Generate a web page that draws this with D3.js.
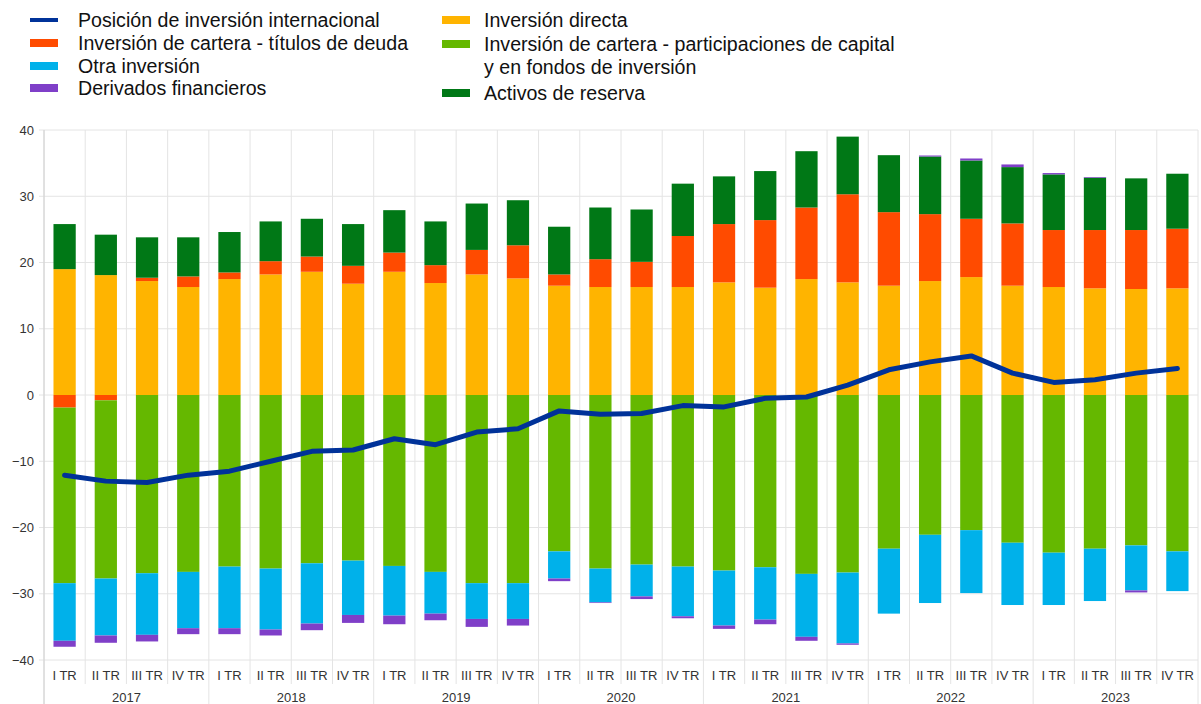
<!DOCTYPE html>
<html>
<head>
<meta charset="utf-8">
<script src="https://cdn.jsdelivr.net/npm/d3@7/dist/d3.min.js"></script>
<style>
body { margin: 0; background: #fff; }
svg { display: block; font-family: "Liberation Sans", Arial, sans-serif; }
</style>
</head>
<body>
<svg id="chart" width="1201" height="704"></svg>
<script>
// quarters and years
var years = ["2017", "2018", "2019", "2020", "2021", "2022", "2023"];
var quarters = ["I TR", "II TR", "III TR", "IV TR"];
var yTicks = [40, 30, 20, 10, 0, -10, -20, -30, -40];

// series (% of GDP)
var directa = [19.0, 18.1, 17.2, 16.3, 17.5, 18.2, 18.6, 16.8, 18.6, 16.9, 18.2, 17.6, 16.5, 16.3, 16.3, 16.3, 17.0, 16.2, 17.5, 17.0, 16.5, 17.2, 17.8, 16.5, 16.3, 16.1, 16.0, 16.1];
var deuda = [-1.9, -0.8, 0.5, 1.6, 1.0, 2.0, 2.3, 2.7, 2.9, 2.7, 3.7, 5.0, 1.7, 4.2, 3.8, 7.7, 8.8, 10.2, 10.8, 13.3, 11.1, 10.1, 8.8, 9.4, 8.6, 8.8, 8.9, 9.0];
var participaciones = [-26.5, -26.9, -26.9, -26.7, -25.9, -26.2, -25.4, -25.0, -25.8, -26.7, -28.4, -28.4, -23.6, -26.2, -25.6, -25.9, -26.5, -26.0, -27.0, -26.8, -23.2, -21.1, -20.4, -22.3, -23.8, -23.2, -22.7, -23.6];
var otra = [-8.7, -8.6, -9.3, -8.5, -9.3, -9.2, -9.1, -8.2, -7.5, -6.3, -5.4, -5.4, -4.1, -5.1, -4.8, -7.5, -8.3, -7.9, -9.5, -10.7, -9.8, -10.3, -9.5, -9.4, -7.9, -7.9, -6.8, -6.0];
var reservas = [6.8, 6.1, 6.1, 5.9, 6.1, 6.0, 5.7, 6.3, 6.4, 6.6, 7.0, 6.8, 7.2, 7.8, 7.9, 7.9, 7.2, 7.4, 8.5, 8.7, 8.6, 8.7, 8.8, 8.5, 8.4, 7.9, 7.8, 8.3];
var derivados = [-0.9, -1.1, -1.0, -0.9, -0.9, -0.9, -1.0, -1.2, -1.3, -1.0, -1.2, -1.0, -0.4, -0.1, -0.4, -0.3, -0.5, -0.7, -0.6, -0.2, 0.0, 0.15, 0.3, 0.4, 0.2, 0.1, -0.3, 0.0];
var posicion = [-12.1, -13.0, -13.2, -12.1, -11.5, -10.0, -8.5, -8.3, -6.6, -7.5, -5.6, -5.1, -2.4, -2.9, -2.8, -1.6, -1.8, -0.5, -0.3, 1.5, 3.8, 5.0, 5.9, 3.3, 1.9, 2.3, 3.3, 4.0];

var series = [
	{key: "directa", name: "Inversión directa", values: directa, color: "#ffb400"},
	{key: "deuda", name: "Inversión de cartera - títulos de deuda", values: deuda, color: "#ff4b00"},
	{key: "participaciones", name: "Inversión de cartera - participaciones de capital|y en fondos de inversión", values: participaciones, color: "#65b800"},
	{key: "otra", name: "Otra inversión", values: otra, color: "#00b1ea"},
	{key: "reservas", name: "Activos de reserva", values: reservas, color: "#007816"},
	{key: "derivados", name: "Derivados financieros", values: derivados, color: "#7f3fc8"}
];
var lineColor = "#003299";

var periods = [];
years.forEach(function(y) {
	quarters.forEach(function(q) { periods.push(y + " " + q); });
});

var rows = periods.map(function(p, i) {
	var r = {period: p};
	series.forEach(function(s) { r[s.key] = s.values[i]; });
	return r;
});

var svg = d3.select("#chart");
var plotLeft = 44, plotRight = 1198, plotTop = 130, plotBottom = 660;

var x = d3.scaleBand().domain(periods).range([plotLeft, plotRight]).paddingInner(0.46).paddingOuter(0.23);
var y = d3.scaleLinear().domain([-40, 40]).range([plotBottom, plotTop]);
var step = x.step();

// grid
var grid = svg.append("g");
grid.selectAll(".hgrid").data(yTicks).enter().append("line")
	.attr("x1", plotLeft - 5).attr("x2", plotRight)
	.attr("y1", function(d) { return y(d); }).attr("y2", function(d) { return y(d); })
	.attr("stroke", "#e4e4e4").attr("stroke-width", 1);
grid.selectAll(".vgrid").data(d3.range(periods.length + 1)).enter().append("line")
	.attr("x1", function(i) { return plotLeft + i * step; })
	.attr("x2", function(i) { return plotLeft + i * step; })
	.attr("y1", plotTop)
	.attr("y2", function(i) { return i % 4 === 0 ? 704 : 684; })
	.attr("stroke", "#e4e4e4").attr("stroke-width", 1);

// stacked bars
var stack = d3.stack().keys(series.map(function(s) { return s.key; }))
	.offset(d3.stackOffsetDiverging);
var stacked = stack(rows);

svg.append("g").selectAll("g").data(stacked).enter().append("g")
	.attr("fill", function(d, i) { return series[i].color; })
	.selectAll("rect").data(function(d) { return d; }).enter().append("rect")
	.attr("x", function(d) { return x(d.data.period); })
	.attr("width", x.bandwidth())
	.attr("y", function(d) { return y(Math.max(d[0], d[1])); })
	.attr("height", function(d) { return Math.abs(y(d[0]) - y(d[1])); });

// line
var line = d3.line()
	.x(function(d, i) { return x(periods[i]) + x.bandwidth() / 2; })
	.y(function(d) { return y(d); });
svg.append("path").datum(posicion)
	.attr("d", line)
	.attr("fill", "none")
	.attr("stroke", lineColor)
	.attr("stroke-width", 5)
	.attr("stroke-linejoin", "round")
	.attr("stroke-linecap", "round");

// y axis
svg.append("line").attr("x1", plotLeft).attr("x2", plotLeft).attr("y1", plotTop).attr("y2", 704)
	.attr("stroke", "#d0d0d0");
var yAxis = d3.axisLeft(y).tickValues(yTicks).tickSize(0).tickPadding(10);
var ga = svg.append("g").attr("transform", "translate(" + plotLeft + ",0)").call(yAxis);
ga.select(".domain").remove();
ga.selectAll("text").attr("font-size", 13).attr("fill", "#333")
	.attr("font-family", "Liberation Sans, Arial, sans-serif");

// x labels
svg.append("g").selectAll("text").data(periods).enter().append("text")
	.attr("x", function(d) { return x(d) + x.bandwidth() / 2; })
	.attr("y", 680)
	.attr("text-anchor", "middle")
	.attr("font-size", 13).attr("fill", "#333")
	.text(function(d) { return d.split(" ").slice(1).join(" "); });
svg.append("g").selectAll("text").data(years).enter().append("text")
	.attr("x", function(d, i) { return plotLeft + (i * 4 + 2) * step; })
	.attr("y", 702)
	.attr("text-anchor", "middle")
	.attr("font-size", 13).attr("fill", "#333")
	.text(function(d) { return d; });

// legend
var legLeft = [
	{name: "Posición de inversión internacional", line: true, color: lineColor, y: 20},
	{s: series[1], y: 43},
	{s: series[3], y: 66},
	{s: series[5], y: 88}
];
var legRight = [
	{s: series[0], y: 20},
	{s: series[2], y: 44},
	{s: series[4], y: 93}
];
function drawLegend(items, sx, tx) {
	items.forEach(function(it) {
		var color = it.line ? it.color : it.s.color;
		var name = it.line ? it.name : it.s.name;
		if (it.line) {
			svg.append("rect").attr("x", sx).attr("y", it.y - 2).attr("width", 28).attr("height", 4)
				.attr("fill", color);
		} else {
			svg.append("rect").attr("x", sx).attr("y", it.y - 4).attr("width", 28).attr("height", 8)
				.attr("fill", color);
		}
		name.split("|").forEach(function(t, k) {
			svg.append("text").attr("x", tx).attr("y", it.y + 7 + k * 23)
				.attr("font-size", 19.6).attr("fill", "#111")
				.text(t);
		});
	});
}
drawLegend(legLeft, 30, 78);
drawLegend(legRight, 442, 484);
</script>
</body>
</html>
